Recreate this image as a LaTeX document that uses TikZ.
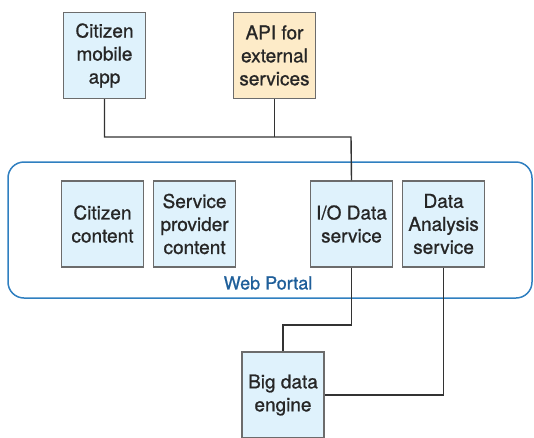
\documentclass[tikz,border=0pt]{standalone}
\usepackage{fontspec}
\setmainfont{TeX Gyre Heros}
\newfontfamily\mediumfont{TeX Gyre Heros}[FakeBold=0.9]
\usetikzlibrary{positioning}
\definecolor{boxblue}{HTML}{DFF2FC}
\definecolor{boxorange}{HTML}{FDEBC8}
\definecolor{portalblue}{HTML}{2F7FC0}
\definecolor{labelblue}{HTML}{1F5F9A}
\tikzset{
	unit/.style={draw=gray!85!black, line width=1.1pt, fill=boxblue, minimum width=82pt, minimum height=86pt, align=center, inner sep=1pt, text=black!85, font=\mediumfont\fontsize{19}{23}\selectfont},
	link/.style={draw=black!80, line width=1.4pt}
}
\begin{document}
\begin{tikzpicture}[x=1pt,y=-1pt]
	\useasboundingbox (0,0) rectangle (534,437);
	\begin{scope}
	\clip (0,0) rectangle (534,437);
	% web portal frame
	\node[draw=portalblue, line width=1.5pt, rounded corners=16pt, minimum width=524pt, minimum height=136pt] (portal) at (270,230) {};
	\node[text=labelblue, font=\mediumfont\fontsize{18}{20}\selectfont] (portallabel) at (268,283) {Web Portal};
	
	\node[unit] (app) at (104.5,55.5) {Citizen\\mobile\\app};
	\node[unit, fill=boxorange] (api) at (274.5,55.5) {API for\\external\\services};
	
	\node[unit] (cit) at (102.5,224) {Citizen\\content};
	\node[unit, right=9pt of cit] (prov) {Service\\provider\\content};
	\node[unit] (io) at (351.5,224) {I/O Data\\service};
	\node[unit, right=9pt of io] (ana) {Data\\Analysis\\service};
	
	\node[unit] (big) at (283,395) {Big data\\engine};
	
	\coordinate (bus) at (351,137);
	\coordinate (bend) at (283,325);
	
	\draw[link] (app.south) |- (bus) -- (io.north);
	\draw[link] (api.south) -- (api.south |- bus);
	\draw[link] (io.south) |- (bend) -- (big.north);
	\draw[link] (ana.south) |- (big.east);
	\end{scope}
\end{tikzpicture}
\end{document}
